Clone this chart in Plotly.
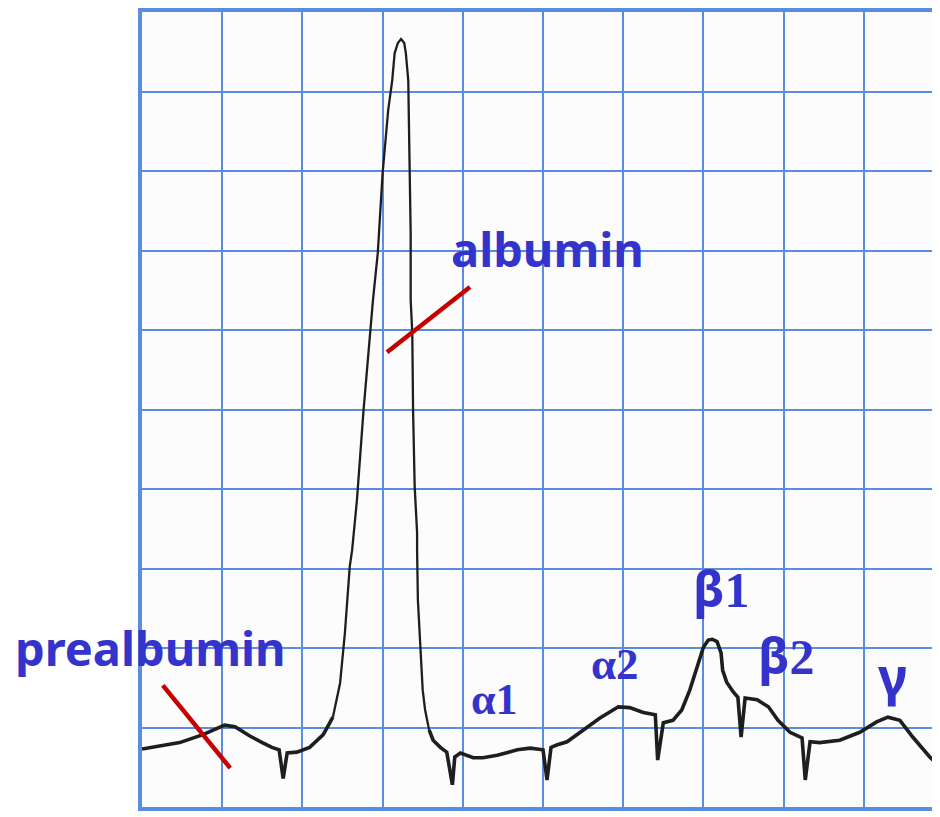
import plotly.graph_objects as go

# Densitometer trace (grid units: 1 = one grid square)
trace_x = [0.00, 0.22, 0.47, 0.76, 0.91, 1.03, 1.16, 1.35, 1.50, 1.62, 1.71, 1.76, 1.81, 1.93, 2.09, 2.26, 2.38,
           2.47, 2.53, 2.59, 2.62, 2.68, 2.76, 2.84, 2.88, 2.94, 3.00, 3.07, 3.12, 3.15, 3.19, 3.23, 3.27, 3.29,
           3.32, 3.33, 3.34, 3.35, 3.35, 3.37, 3.38, 3.40, 3.43, 3.43, 3.44, 3.47, 3.50, 3.53,
           3.58, 3.63, 3.72, 3.80, 3.87, 3.90, 3.97, 4.05, 4.13, 4.25, 4.43, 4.68, 4.84,
           5.00, 5.05, 5.10, 5.17, 5.30, 5.50, 5.71, 5.94, 6.08, 6.25, 6.40, 6.43, 6.50, 6.62, 6.73, 6.83,
           6.93, 7.00, 7.06, 7.11, 7.17, 7.22, 7.24, 7.29, 7.37, 7.43, 7.47, 7.52, 7.67, 7.81, 7.93, 8.08,
           8.23, 8.27, 8.33, 8.45, 8.70, 8.95, 9.16, 9.30, 9.45, 9.61, 9.83, 9.89]
trace_y = [0.73, 0.77, 0.81, 0.91, 0.98, 1.03, 1.01, 0.89, 0.81, 0.75, 0.72, 0.36, 0.68, 0.69, 0.75, 0.91, 1.13,
           1.56, 2.19, 3.02, 3.23, 3.86, 4.96, 5.96, 6.38, 6.97, 7.97, 8.77, 9.14, 9.48, 9.61, 9.66, 9.61, 9.48,
           9.14, 8.48, 7.97, 7.22, 6.38, 5.96, 4.99, 4.03, 3.45, 3.23, 2.60, 1.97, 1.47, 1.22,
           0.97, 0.84, 0.75, 0.69, 0.28, 0.63, 0.68, 0.65, 0.62, 0.62, 0.65, 0.72, 0.74,
           0.72, 0.34, 0.75, 0.78, 0.82, 0.97, 1.12, 1.26, 1.25, 1.19, 1.16, 0.59, 1.06, 1.09, 1.22, 1.47,
           1.81, 2.01, 2.10, 2.11, 2.08, 1.94, 1.72, 1.57, 1.45, 1.38, 0.88, 1.37, 1.35, 1.26, 1.09, 0.94,
           0.87, 0.34, 0.82, 0.81, 0.84, 0.94, 1.07, 1.13, 1.09, 0.88, 0.62, 0.57]

# Fraction labels
label_text = ["prealbumin", "albumin"]
label_x = [0.10, 5.05]
label_y = [2.00, 7.02]

greek_text = ["α1", "α2", "β1", "β2", "γ"]
greek_x = [4.40, 5.90, 7.23, 8.04, 9.36]
greek_y = [1.35, 1.80, 2.75, 1.91, 1.67]
greek_size = [44, 45, 50, 50, 52]

# Red pointer lines
ptr_alb_x = [3.055, 4.09]
ptr_alb_y = [5.72, 6.54]
ptr_pre_x = [0.26, 1.10]
ptr_pre_y = [1.53, 0.49]

GRID = "#5a8ddf"
TXT = "#3434cc"
RED = "#c40000"

fig = go.Figure()

# split trace: thick baseline, thinner albumin peak
i0, i1 = 16, 48
segs = [(0, i0 + 1, 3.6), (i0, i1 + 1, 2.3), (i1, len(trace_x), 3.6)]
for a, b, w in segs:
    fig.add_trace(go.Scatter(x=trace_x[a:b], y=trace_y[a:b], mode="lines",
                             line=dict(color="#1e1e1e", width=w), hoverinfo="skip",
                             showlegend=False, cliponaxis=True))

for px, py in [(ptr_alb_x, ptr_alb_y), (ptr_pre_x, ptr_pre_y)]:
    fig.add_trace(go.Scatter(x=px, y=py, mode="lines", line=dict(color=RED, width=4.5),
                             hoverinfo="skip", showlegend=False, cliponaxis=False))

for t, x, y in zip(label_text, label_x, label_y):
    fig.add_annotation(x=x, y=y, text="<b>%s</b>" % t, showarrow=False,
                       xanchor="center", yanchor="middle",
                       font=dict(family="Noto Sans", size=47, color=TXT))

def greek_markup(t):
    g, rest = t[0], t[1:]
    if g in "βγ":
        g = '<span style="font-family:Noto Sans">%s</span>' % g
    return "<b>%s%s</b>" % (g, rest)

for t, x, y, s in zip(greek_text, greek_x, greek_y, greek_size):
    fig.add_annotation(x=x, y=y, text=greek_markup(t), showarrow=False,
                       xanchor="center", yanchor="middle",
                       font=dict(family="Liberation Serif", size=s, color=TXT))

fig.update_xaxes(range=[0, 9.95], dtick=1, tick0=0, showgrid=True, gridcolor=GRID, gridwidth=1.6,
                 zeroline=False, showticklabels=False, ticks="",
                 showline=True, linecolor=GRID, linewidth=3.5, mirror=True)
fig.update_yaxes(range=[0, 10], dtick=1, tick0=0, showgrid=True, gridcolor=GRID, gridwidth=1.6,
                 zeroline=False, showticklabels=False, ticks="",
                 showline=True, linecolor=GRID, linewidth=3.5, mirror=False)

# page body has an 8px default margin; size the figure to compensate
fig.update_layout(width=932, height=809, margin=dict(l=134, r=0, t=4, b=10),
                  paper_bgcolor="white", plot_bgcolor="#fcfcfc", showlegend=False)

fig.write_html("out.html")
